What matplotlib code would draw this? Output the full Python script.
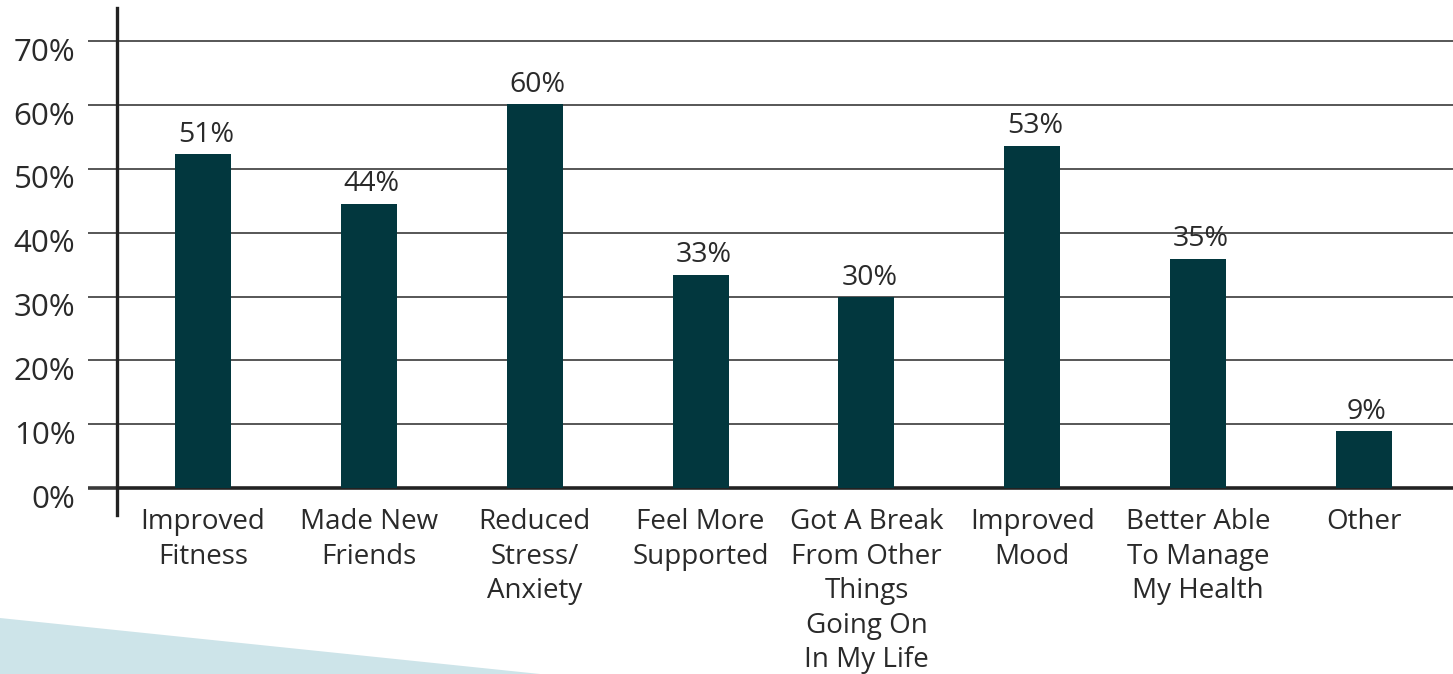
import matplotlib
matplotlib.use("Agg")
import matplotlib.pyplot as plt
from matplotlib.patches import Polygon
from matplotlib.transforms import ScaledTranslation

# data (bar heights as drawn, labels as printed)
categories = ["Improved\nFitness", "Made New\nFriends", "Reduced\nStress/\nAnxiety",
              "Feel More\nSupported", "Got A Break\nFrom Other\nThings\nGoing On\nIn My Life",
              "Improved\nMood", "Better Able\nTo Manage\nMy Health", "Other"]
heights = [52.3, 44.5, 60.1, 33.4, 29.9, 53.6, 35.9, 8.9]
value_labels = ["51%", "44%", "60%", "33%", "30%", "53%", "35%", "9%"]
yticks = [0, 10, 20, 30, 40, 50, 60, 70]

bar_color = "#02373e"
text_color = "#2a2a2a"
grid_color = "#3a3a3a"

plt.rcParams['font.family'] = ['Open Sans', 'DejaVu Sans']

W, H = 1453, 674
fig = plt.figure(figsize=(W / 100, H / 100), dpi=100)

# light blue wedge in the bottom-left corner
wedge = Polygon([(0, (H - 618) / H), (540 / W, 0), (0, 0)], closed=True,
                transform=fig.transFigure, facecolor="#cde4e9", edgecolor="none", zorder=0)
fig.patches.append(wedge)

ax = fig.add_axes([117 / W, (H - 515) / H, 1 - 117 / W, (515 - 8) / H])
ax.patch.set_alpha(0)

x = list(range(len(categories)))
ax.bar(x, heights, width=0.338, color=bar_color, zorder=3)

for xi, h, lab in zip(x, heights, value_labels):
    ax.annotate(lab, (xi, h), xytext=(2, 4), textcoords="offset points",
                ha="center", va="bottom", fontsize=20.5, color=text_color)

ax.set_xlim(-0.518, 7.536)
ax.set_ylim(-4.2, 75.2)

# gridlines
for t in yticks:
    ax.axhline(t, color=grid_color if t else "#222222", lw=1.2 if t else 2.6, zorder=1)

ax.set_yticks(yticks)
ax.set_yticklabels([f"{t}%" for t in yticks])
ax.tick_params(axis="y", direction="out", length=21, width=1.2, color=grid_color,
               labelsize=22.5, labelcolor=text_color, pad=9)
ax.yaxis.get_major_ticks()[0].tick1line.set_markeredgewidth(2.6)
for lab in ax.get_yticklabels():
    lab.set_transform(lab.get_transform() + ScaledTranslation(0, -8 / 100, fig.dpi_scale_trans))

ax.set_xticks(x)
ax.set_xticklabels(categories, linespacing=1.31)
ax.tick_params(axis="x", length=0, labelsize=20, labelcolor=text_color, pad=-5)

for side in ["top", "right", "bottom"]:
    ax.spines[side].set_visible(False)
ax.spines["left"].set_linewidth(2.4)
ax.spines["left"].set_color("#222222")

fig.savefig("out.png", dpi=100)
